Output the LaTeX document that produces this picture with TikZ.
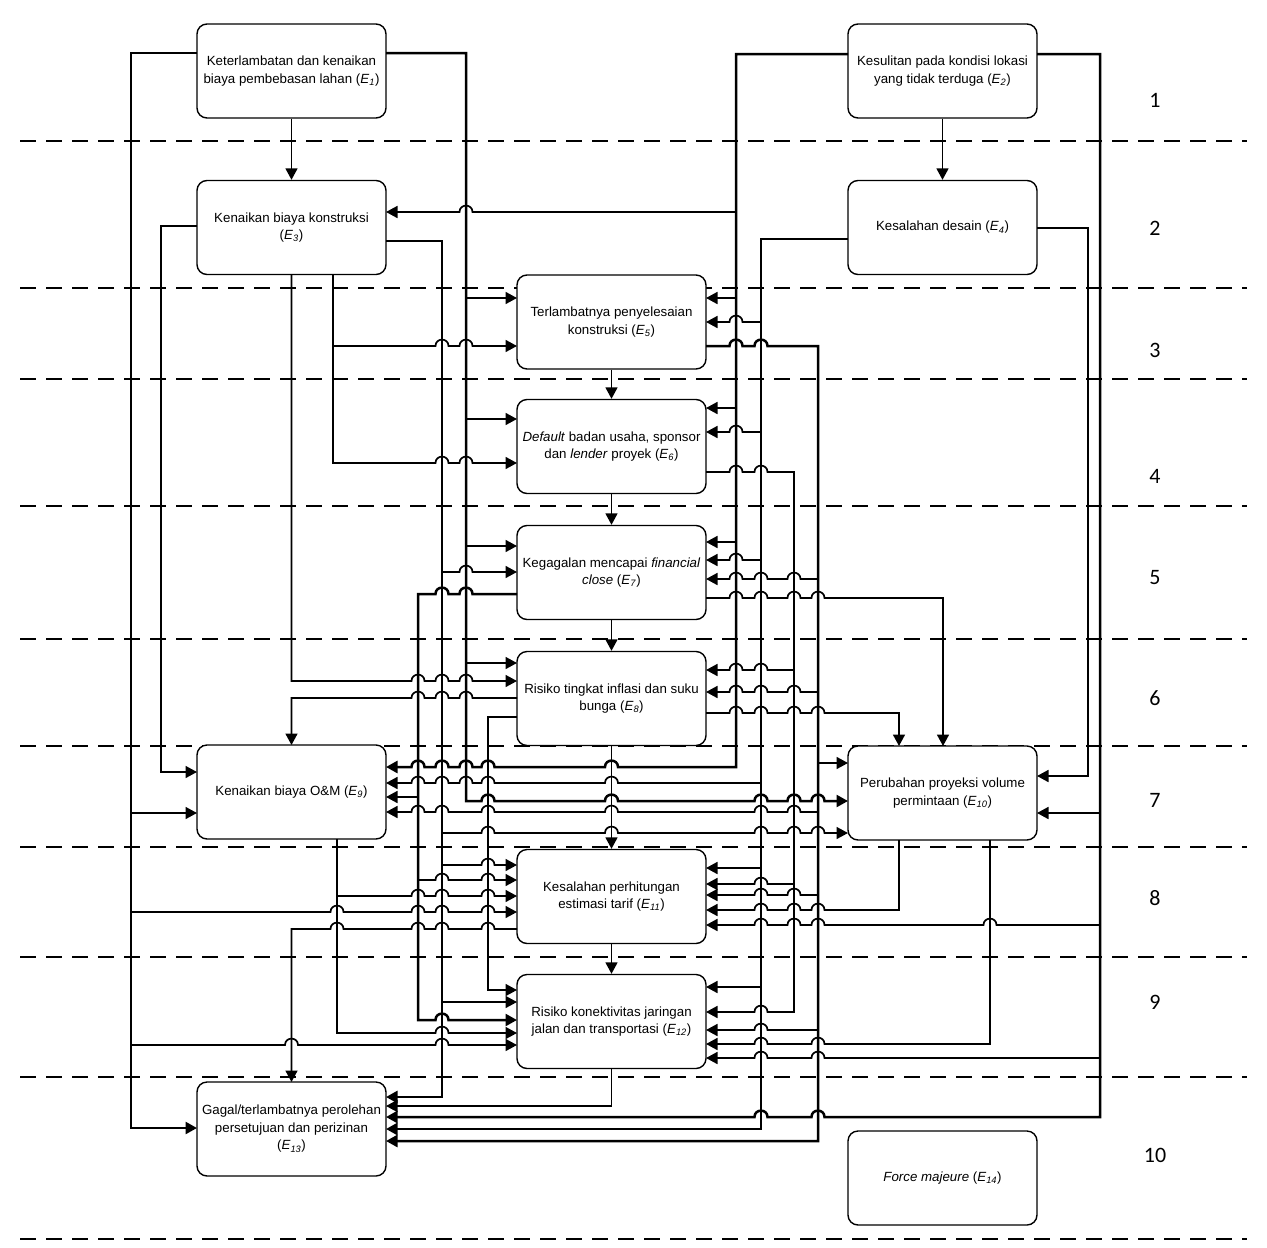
\documentclass[tikz,border=0pt]{standalone}
\usepackage{fontspec}
\setmainfont{Liberation Sans}
\newfontfamily\numfont{Carlito}
\usetikzlibrary{arrows.meta}
\newcommand\ee[1]{\textit{E}\textsubscript{\textit{#1}}}
% horizontal run to the right with hop-overs: y, end x, crossing xs
\newcommand\hopr[3]{\foreach \h in {#3} { -- ({\h-6.5},#1) .. controls ({\h-6.5},{#1-8.5}) and ({\h+6.5},{#1-8.5}) .. ({\h+6.5},#1) } -- (#2,#1)}
% horizontal run to the left with hop-overs
\newcommand\hopl[3]{\foreach \h in {#3} { -- ({\h+6.5},#1) .. controls ({\h+6.5},{#1-8.5}) and ({\h-6.5},{#1-8.5}) .. ({\h-6.5},#1) } -- (#2,#1)}
\begin{document}
\begin{tikzpicture}[x=1pt,y=-1pt,
  box/.style={draw, fill=white, line width=1.4pt, rounded corners=10pt, minimum width=189pt, minimum height=94pt, inner sep=2pt, align=center, font=\fontsize{13.3}{17.5}\selectfont},
  thk/.style={line width=2.5pt},
  thn/.style={line width=1.7pt},
  arw/.style={-{Triangle[length=11.5pt,width=12pt]}},
  sepline/.style={line width=1.3pt, dash pattern=on 16pt off 10pt},
  lvl/.style={font=\numfont\fontsize{22}{22}\selectfont, inner sep=0pt}]
\fill[white] (0,0) rectangle (1267,1248);
\useasboundingbox (0,0) rectangle (1267,1248);

% level separators
\foreach \y in {141,288,379,506,639,746,847,957,1077,1239}
  \draw[sepline] (20,\y) -- (1247,\y);

% boxes
\node[box] (E1) at (291.5,71) {Keterlambatan dan kenaikan\\biaya pembebasan lahan (\ee{1})};
\node[box] (E2) at (942.5,71) {Kesulitan pada kondisi lokasi\\yang tidak terduga (\ee{2})};
\node[box] (E3) at (291.5,227.5) {Kenaikan biaya konstruksi\\(\ee{3})};
\node[box] (E4) at (942.5,227.5) {Kesalahan desain (\ee{4})};
\node[box] (E5) at (611.5,322) {Terlambatnya penyelesaian\\konstruksi (\ee{5})};
\node[box] (E6) at (611.5,446.5) {\textit{Default} badan usaha, sponsor\\dan \textit{lender} proyek (\ee{6})};
\node[box] (E7) at (611.5,572.5) {Kegagalan mencapai \textit{financial}\\\textit{close} (\ee{7})};
\node[box] (E8) at (611.5,698.5) {Risiko tingkat inflasi dan suku\\bunga (\ee{8})};
\node[box] (E9) at (291.5,792) {Kenaikan biaya O\&M (\ee{9})};
\node[box] (E10) at (942.5,793) {Perubahan proyeksi volume\\permintaan (\ee{10})};
\node[box] (E11) at (611.5,896.5) {Kesalahan perhitungan\\estimasi tarif (\ee{11})};
\node[box] (E12) at (611.5,1021.5) {Risiko konektivitas jaringan\\jalan dan transportasi (\ee{12})};
\node[box] (E13) at (291.5,1129) {Gagal/terlambatnya perolehan\\persetujuan dan perizinan\\(\ee{13})};
\node[box] (E14) at (942.5,1178) {\textit{Force majeure} (\ee{14})};

% level numbers
\node[lvl] (L1) at (1155,100) {1};
\node[lvl] (L2) at (1155,228) {2};
\node[lvl] (L3) at (1155,350) {3};
\node[lvl] (L4) at (1155,476) {4};
\node[lvl] (L5) at (1155,578) {5};
\node[lvl] (L6) at (1155,698) {6};
\node[lvl] (L7) at (1155,800) {7};
\node[lvl] (L8) at (1155,898) {8};
\node[lvl] (L9) at (1155,1002) {9};
\node[lvl] (L10) at (1155,1155) {10};

% straight vertical links
\draw[thn,arw] (E1) -- (E3);
\draw[thn,arw] (E2) -- (E4);
\draw[thn,arw] (E5) -- (E6);
\draw[thn,arw] (E6) -- (E7);
\draw[thn,arw] (E7) -- (E8);
\draw[thn,arw] (E8) -- (E11);
\draw[thn,arw] (E11) -- (E12);

% E1 left trunk
\draw[thk,arw] (197,53) -- (131,53) -- (131,1128) -- (197,1128);
\draw[thn,arw] (131,813) -- (197,813);
\draw[thn,arw] (131,912) \hopr{912}{517}{337,418,442,488};
\draw[thn,arw] (131,1045) \hopr{1045}{517}{291.5,442};

% E1 right trunk
\draw[thk,arw] (386,53) -- (466,53) -- (466,801) \hopr{801}{848}{488,611.5,761,794,818};
\draw[thn,arw] (466,298) -- (517,298);
\draw[thn,arw] (466,419) -- (517,419);
\draw[thn,arw] (466,546) -- (517,546);
\draw[thn,arw] (466,663) -- (517,663);

% E2 left trunk
\draw[thk,arw] (848,54) -- (736,54) -- (736,767) \hopl{767}{386}{611.5,488,466,442,418};
\draw[thn,arw] (736,212) \hopl{212}{386}{466};
\draw[thn,arw] (736,298) -- (706,298);
\draw[thn,arw] (736,408) -- (706,408);
\draw[thn,arw] (736,542) -- (706,542);

% E2 right trunk
\draw[thk,arw] (1037,54) -- (1100,54) -- (1100,1117) \hopl{1117}{386}{818,761};
\draw[thn,arw] (1100,813) -- (1037,813);
\draw[thn,arw] (1100,925) \hopl{925}{706}{990,818,794,761};
\draw[thn,arw] (1100,1058) \hopl{1058}{706}{818,761};

% E3
\draw[thn,arw] (197,226) -- (161,226) -- (161,772) -- (197,772);
\draw[thn,arw] (291.5,274) -- (291.5,681) \hopr{681}{517}{418,442,466};
\draw[thn,arw] (333,274) -- (333,463) \hopr{463}{517}{442,466};
\draw[thn,arw] (333,346) \hopr{346}{517}{442,466};
\draw[thk,arw] (386,241) -- (442,241) -- (442,1097) -- (386,1097);
\draw[thn,arw] (442,572) \hopr{572}{517}{466};
\draw[thn,arw] (442,833) \hopr{833}{848}{488,611.5,761,794,818};
\draw[thn,arw] (442,865) \hopr{865}{517}{488};
\draw[thn,arw] (442,1002) -- (517,1002);

% E4
\draw[thn,arw] (1037,228) -- (1088,228) -- (1088,776) -- (1037,776);
\draw[thk,arw] (848,239) -- (761,239) -- (761,1129) -- (386,1129);
\draw[thn,arw] (761,322) \hopl{322}{706}{736};
\draw[thn,arw] (761,432) \hopl{432}{706}{736};
\draw[thn,arw] (761,560) \hopl{560}{706}{736};
\draw[thn,arw] (761,783) \hopl{783}{386}{611.5,488,466,442,418};
\draw[thn,arw] (761,868) -- (706,868);
\draw[thn,arw] (761,987) -- (706,987);

% E5
\draw[thk,arw] (706,346) \hopr{346}{818}{736,761} -- (818,1141) -- (386,1141);
\draw[thn,arw] (818,579) \hopl{579}{706}{794,761,736};
\draw[thn,arw] (818,692) \hopl{692}{706}{794,761,736};
\draw[thn,arw] (818,763) -- (848,763);
\draw[thn,arw] (818,812) \hopl{812}{386}{794,761,611.5,488,442,418};
\draw[thn,arw] (818,895) \hopl{895}{706}{794,761};
\draw[thn,arw] (818,1030) \hopl{1030}{706}{761};

% E6
\draw[thn,arw] (706,472) \hopr{472}{794}{736,761} -- (794,1012) \hopl{1012}{706}{761};
\draw[thn,arw] (794,670) \hopl{670}{706}{761,736};
\draw[thn,arw] (794,884) \hopl{884}{706}{761};

% E7
\draw[thk,arw] (517,594) \hopl{594}{418}{466,442} -- (418,1020) \hopr{1020}{517}{442};
\draw[thn,arw] (418,797) -- (386,797);
\draw[thn,arw] (418,880) \hopr{880}{517}{442,488};
\draw[thn,arw] (706,598) \hopr{598}{943}{736,761,794,818} -- (943,746);

% E8
\draw[thn,arw] (517,698) \hopl{698}{291.5}{466,442,418} -- (291.5,745);
\draw[thn,arw] (517,717) -- (488,717) -- (488,990) -- (517,990);
\draw[thn,arw] (706,713) \hopr{713}{899}{736,761,794,818} -- (899,746);

% E9
\draw[thn,arw] (337,839) -- (337,1033) \hopr{1033}{517}{442};
\draw[thn,arw] (337,896) \hopr{896}{517}{418,442,488};

% E10
\draw[thn,arw] (899,840) -- (899,910) \hopl{910}{706}{818,794,761};
\draw[thn,arw] (990,840) -- (990,1044) \hopl{1044}{706}{818,761};

% E11
\draw[thn,arw] (517,929) \hopl{929}{291.5}{488,442,418,337} -- (291.5,1082);

% E12
\draw[thn,arw] (E12.south) -- (611.5,1106) -- (386,1106);
\end{tikzpicture}
\end{document}
